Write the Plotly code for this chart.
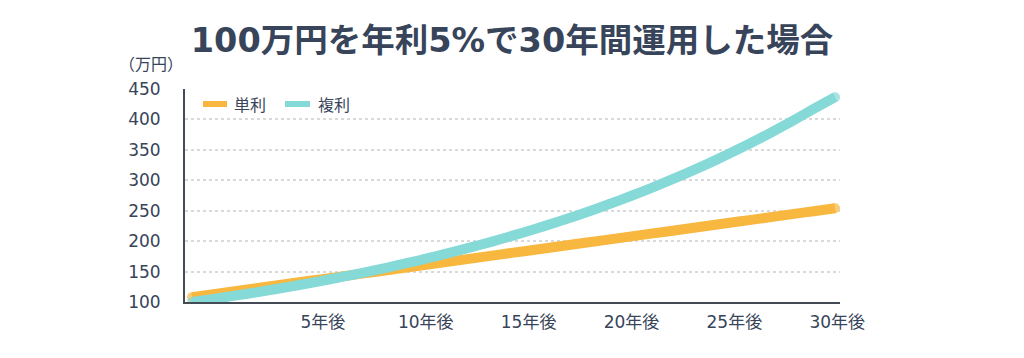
import plotly.graph_objects as go

years = list(range(0, 31))
simple_interest = [108.0, 112.9, 117.7, 122.6, 127.5, 132.4, 137.2, 142.1, 147.0, 151.8,
                   156.7, 161.6, 166.4, 171.3, 176.2, 181.1, 185.9, 190.8, 195.7, 200.5,
                   205.4, 210.3, 215.1, 220.0, 224.9, 229.8, 234.6, 239.5, 244.4, 249.2, 254.1]
compound_interest = [100.0, 105.1, 110.4, 115.9, 121.8, 127.9, 134.4, 141.2, 148.3, 155.8,
                     163.7, 171.9, 180.6, 189.7, 199.3, 209.4, 220.0, 231.1, 242.7, 255.0,
                     267.9, 281.4, 295.6, 310.5, 326.2, 342.7, 360.0, 378.2, 397.3, 417.3, 436.5]
x_tick_positions = [6.1, 10.9, 15.7, 20.5, 25.3, 30.1]
x_tick_labels = ["5年後", "10年後", "15年後", "20年後", "25年後", "30年後"]
y_ticks = [100, 150, 200, 250, 300, 350, 400, 450]
series_names = ["単利", "複利"]

FONT = "DejaVu Sans, Noto Sans CJK JP"
CJK = "Noto Sans CJK JP"
TXT = "#37445a"
ORANGE = "#f8b73e"
CYAN = "#85d9d6"
LW = 10

# page offset (body margin 8px) is compensated in margins
ML, MR, MT, MB = 177, 192, 81, 64
PW = 1024 - ML - MR
PH = 358 - MT - MB


def px_x(p):
    return (p - 8 - ML) / PW


def px_y(p):
    return (358 - MB - (p - 8)) / PH


def end_sizes(n):
    s = [0] * n
    s[0] = LW
    s[-1] = LW
    return s


fig = go.Figure()
for name, vals, col in [(series_names[0], simple_interest, ORANGE),
                        (series_names[1], compound_interest, CYAN)]:
    fig.add_trace(go.Scatter(x=years, y=vals, name=name, mode="lines+markers",
                             line=dict(color=col, width=LW, shape="spline", smoothing=0.6),
                             marker=dict(color=col, size=end_sizes(len(years)), line=dict(width=0)),
                             showlegend=False))

# manual legend
legend_items = [(series_names[0], ORANGE, 203, 227, 232), (series_names[1], CYAN, 285, 310, 316)]
shapes = []
annotations = []
for name, col, x0, x1, tx in legend_items:
    shapes.append(dict(type="line", xref="paper", yref="paper", x0=px_x(x0), x1=px_x(x1),
                       y0=px_y(104), y1=px_y(104), line=dict(color=col, width=6)))
    annotations.append(dict(text=name, xref="paper", yref="paper", x=px_x(tx), y=px_y(104),
                            xanchor="left", yanchor="middle", showarrow=False,
                            font=dict(size=16, color=TXT, family=CJK)))

annotations.append(dict(text="（万円）", xref="paper", yref="paper", x=px_x(151),
                        y=px_y(63), xanchor="center", yanchor="middle", showarrow=False,
                        font=dict(size=16, color=TXT, family=CJK)))

fig.update_layout(
    width=1024, height=358,
    margin=dict(l=ML, r=MR, t=MT, b=MB),
    paper_bgcolor="white", plot_bgcolor="white",
    font=dict(family=FONT, color=TXT, size=15),
    title=dict(text="<b>100万円を年利5%で30年間運用した場合</b>", x=(512 - 8) / 1024,
               xanchor="center", y=1 - (40 - 8) / 358, yanchor="middle",
               font=dict(size=33.5, color=TXT, family=FONT)),
    showlegend=False,
    xaxis=dict(range=[-0.33, 30.23], tickvals=x_tick_positions, ticktext=x_tick_labels,
               showgrid=False, zeroline=False, showline=True, linecolor="#444b55", linewidth=2,
               ticks="", tickfont=dict(size=17, color=TXT), ticklabelstandoff=4, fixedrange=True),
    yaxis=dict(range=[100, 450], tickvals=y_ticks, showgrid=True, gridcolor="#d9d9d9",
               griddash="dot", gridwidth=1.5, zeroline=False, showline=True,
               linecolor="#444b55", linewidth=2, ticks="", tickfont=dict(size=17, color=TXT),
               ticklabelstandoff=19, fixedrange=True),
    shapes=shapes,
    annotations=annotations,
)

fig.write_html("out.html")
